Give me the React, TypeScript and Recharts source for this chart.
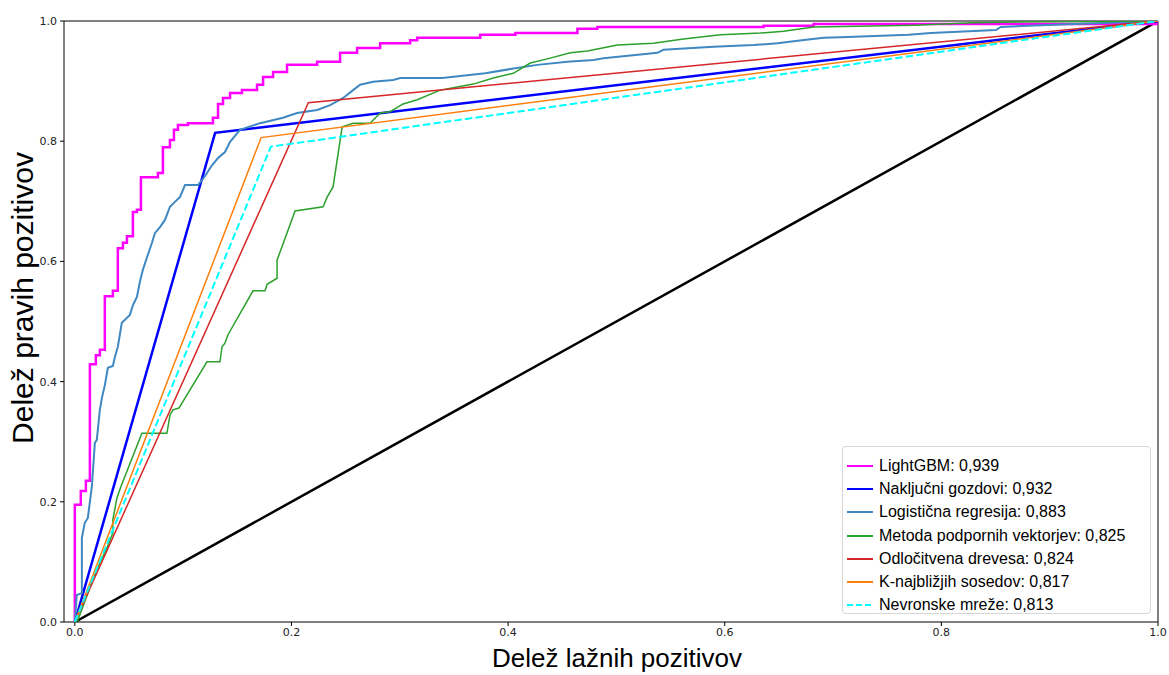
import { LineChart, Line, XAxis, YAxis, ReferenceArea } from "recharts";

const axisTicks = [0, 0.2, 0.4, 0.6, 0.8, 1.0];

const chanceFpr = [0, 1];
const chanceTpr = [0, 1];

const lgbmFpr = [0, 0, 0.0055, 0.0102, 0.0139, 0.0194, 0.0231, 0.0277, 0.0351, 0.0397, 0.0444, 0.0481, 0.0536, 0.0573, 0.061, 0.0767, 0.0813, 0.0878, 0.0915, 0.0952, 0.1044, 0.1275, 0.1322, 0.1368, 0.1433, 0.1543, 0.1682, 0.1738, 0.183, 0.1959, 0.2237, 0.2449, 0.2606, 0.2819, 0.3096, 0.3161, 0.3743, 0.4067, 0.464, 0.4824, 0.6359, 0.6821, 1];
const lgbmTpr = [0, 0.195, 0.218, 0.235, 0.429, 0.444, 0.453, 0.542, 0.551, 0.622, 0.631, 0.642, 0.682, 0.686, 0.74, 0.747, 0.79, 0.802, 0.819, 0.827, 0.83, 0.839, 0.862, 0.872, 0.88, 0.885, 0.894, 0.907, 0.915, 0.927, 0.932, 0.947, 0.955, 0.963, 0.968, 0.972, 0.977, 0.98, 0.987, 0.99, 0.992, 0.995, 1];

const rfFpr = [0, 0.1295, 1];
const rfTpr = [0, 0.814, 1];

const lrFpr = [0, 0.0018, 0.0065, 0.0065, 0.0092, 0.012, 0.0157, 0.0185, 0.0203, 0.0231, 0.025, 0.0277, 0.0305, 0.0351, 0.037, 0.0397, 0.0434, 0.0508, 0.0536, 0.0573, 0.0601, 0.0628, 0.0665, 0.0712, 0.0739, 0.0786, 0.0832, 0.0878, 0.0924, 0.097, 0.1017, 0.1137, 0.1174, 0.122, 0.1266, 0.1322, 0.1386, 0.1433, 0.1525, 0.171, 0.1922, 0.2052, 0.2237, 0.2357, 0.2477, 0.2569, 0.2634, 0.2754, 0.2939, 0.3004, 0.3392, 0.3789, 0.402, 0.427, 0.4547, 0.4787, 0.488, 0.5379, 0.5434, 0.5896, 0.6266, 0.6488, 0.6673, 0.6913, 0.707, 0.7699, 0.7902, 0.8503, 0.8549, 0.8919, 1];
const lrTpr = [0, 0.045, 0.048, 0.14, 0.165, 0.173, 0.225, 0.298, 0.303, 0.353, 0.373, 0.394, 0.423, 0.426, 0.441, 0.458, 0.498, 0.511, 0.527, 0.541, 0.566, 0.586, 0.606, 0.631, 0.647, 0.657, 0.669, 0.691, 0.699, 0.707, 0.727, 0.727, 0.735, 0.747, 0.76, 0.772, 0.782, 0.799, 0.819, 0.83, 0.839, 0.847, 0.852, 0.86, 0.872, 0.885, 0.894, 0.899, 0.902, 0.905, 0.905, 0.913, 0.92, 0.927, 0.932, 0.935, 0.938, 0.947, 0.952, 0.957, 0.96, 0.963, 0.967, 0.972, 0.973, 0.977, 0.98, 0.985, 0.99, 0.993, 1];

const svmFpr = [0, 0.0028, 0.0166, 0.0231, 0.0296, 0.0351, 0.0351, 0.0388, 0.0425, 0.0619, 0.085, 0.0878, 0.0906, 0.0961, 0.122, 0.134, 0.1359, 0.1386, 0.1414, 0.1645, 0.1756, 0.1775, 0.1867, 0.1867, 0.2033, 0.2292, 0.2329, 0.2384, 0.2468, 0.2569, 0.2726, 0.2819, 0.2911, 0.3031, 0.3161, 0.3373, 0.353, 0.3678, 0.3863, 0.4048, 0.4205, 0.4362, 0.4575, 0.4732, 0.5009, 0.5342, 0.5619, 0.5961, 0.6331, 0.6543, 0.6821, 0.7745, 0.8299, 0.8549, 1];
const svmTpr = [0, 0.003, 0.07, 0.098, 0.123, 0.148, 0.17, 0.206, 0.225, 0.314, 0.314, 0.344, 0.353, 0.356, 0.433, 0.433, 0.458, 0.464, 0.478, 0.551, 0.551, 0.562, 0.572, 0.602, 0.684, 0.691, 0.707, 0.724, 0.824, 0.83, 0.83, 0.847, 0.849, 0.862, 0.869, 0.885, 0.89, 0.895, 0.905, 0.913, 0.93, 0.937, 0.947, 0.95, 0.96, 0.963, 0.97, 0.977, 0.98, 0.983, 0.99, 0.993, 0.997, 0.998, 1];

const dtFpr = [0, 0.2156, 1];
const dtTpr = [0, 0.864, 1];

const knnFpr = [0, 0.172, 1];
const knnTpr = [0, 0.806, 1];

const nnFpr = [0, 0.181, 1];
const nnTpr = [0, 0.791, 1];

const toPoints = (fpr: number[], tpr: number[]) => fpr.map((x, i) => ({ x, y: tpr[i] }));

type Series = {
  name: string;
  auc: string;
  fpr: number[];
  tpr: number[];
  color: string;
  width: number;
  curve: "linear" | "stepAfter";
  dash?: string;
};

const series: Series[] = [
  { name: "LightGBM", auc: "0,939", fpr: lgbmFpr, tpr: lgbmTpr, color: "#ff00ff", width: 2.5, curve: "stepAfter" },
  { name: "Naključni gozdovi", auc: "0,932", fpr: rfFpr, tpr: rfTpr, color: "#0000ff", width: 2.5, curve: "linear" },
  { name: "Logistična regresija", auc: "0,883", fpr: lrFpr, tpr: lrTpr, color: "#3f88c2", width: 2, curve: "linear" },
  { name: "Metoda podpornih vektorjev", auc: "0,825", fpr: svmFpr, tpr: svmTpr, color: "#2ca02c", width: 1.5, curve: "linear" },
  { name: "Odločitvena drevesa", auc: "0,824", fpr: dtFpr, tpr: dtTpr, color: "#d62728", width: 1.5, curve: "linear" },
  { name: "K-najbližjih sosedov", auc: "0,817", fpr: knnFpr, tpr: knnTpr, color: "#ff7f0e", width: 1.5, curve: "linear" },
  { name: "Nevronske mreže", auc: "0,813", fpr: nnFpr, tpr: nnTpr, color: "#00ffff", width: 2, curve: "linear", dash: "7.4 3.2" },
];

const tickStyle = { fill: "#222", fontSize: 11, fontFamily: "DejaVu Sans" };

export default function App() {
  return (
    <div style={{ position: "absolute", left: 0, top: 0, width: 1169, height: 675, background: "#fff" }}>
      <LineChart width={1169} height={675} margin={{ top: 21, right: 11, left: 0, bottom: 0 }}>
        <XAxis
          type="number"
          dataKey="x"
          domain={[-0.01, 1]}
          ticks={axisTicks}
          tickFormatter={(v: number) => v.toFixed(1)}
          height={53}
          tick={tickStyle}
          tickSize={4}
          tickMargin={2}
          axisLine={false}
          tickLine={{ stroke: "#000" }}
          allowDataOverflow
        />
        <YAxis
          type="number"
          domain={[0, 1]}
          ticks={axisTicks}
          tickFormatter={(v: number) => v.toFixed(1)}
          width={64}
          tick={tickStyle}
          tickSize={4}
          tickMargin={3}
          axisLine={false}
          tickLine={{ stroke: "#000" }}
          allowDataOverflow
        />
        <ReferenceArea x1={-0.01} x2={1} y1={0} y2={1} fill="none" stroke="#000" strokeWidth={1} ifOverflow="visible" />
        <Line
          data={toPoints(chanceFpr, chanceTpr)}
          dataKey="y"
          type="linear"
          stroke="#000"
          strokeWidth={2.5}
          dot={false}
          activeDot={false}
          isAnimationActive={false}
        />
        {series.map((s) => (
          <Line
            key={s.name}
            data={toPoints(s.fpr, s.tpr)}
            dataKey="y"
            name={s.name}
            type={s.curve}
            stroke={s.color}
            strokeWidth={s.width}
            strokeDasharray={s.dash}
            dot={false}
            activeDot={false}
            isAnimationActive={false}
          />
        ))}
      </LineChart>
      <svg width={1169} height={675} style={{ position: "absolute", left: 0, top: 0, pointerEvents: "none" }}>
        <text
          x={617}
          y={667}
          textAnchor="middle"
          fontFamily="Liberation Sans"
          fontSize={26}
          fill="#000"
        >
          Delež lažnih pozitivov
        </text>
        <text
          x={33}
          y={298}
          transform="rotate(-90 33 298)"
          textAnchor="middle"
          fontFamily="Liberation Sans"
          fontSize={30}
          fill="#000"
        >
          Delež pravih pozitivov
        </text>
      </svg>
      <div
        style={{
          position: "absolute",
          left: 842,
          top: 446,
          width: 309,
          height: 168,
          border: "1px solid #d6d6d6",
          borderRadius: 4,
          background: "rgba(255,255,255,0.85)",
          boxSizing: "border-box",
          paddingTop: 7,
          fontFamily: "Liberation Sans",
          fontSize: 16,
          color: "#000",
        }}
      >
        {series.map((s) => (
          <div key={s.name} style={{ display: "flex", alignItems: "center", height: 23.3 }}>
            <svg width={36} height={10} style={{ flex: "none" }}>
              <line x1={4} y1={5} x2={30} y2={5} stroke={s.color} strokeWidth={2} strokeDasharray={s.dash ? "6 3" : undefined} />
            </svg>
            <span style={{ whiteSpace: "nowrap" }}>
              {s.name}: {s.auc}
            </span>
          </div>
        ))}
      </div>
    </div>
  );
}
